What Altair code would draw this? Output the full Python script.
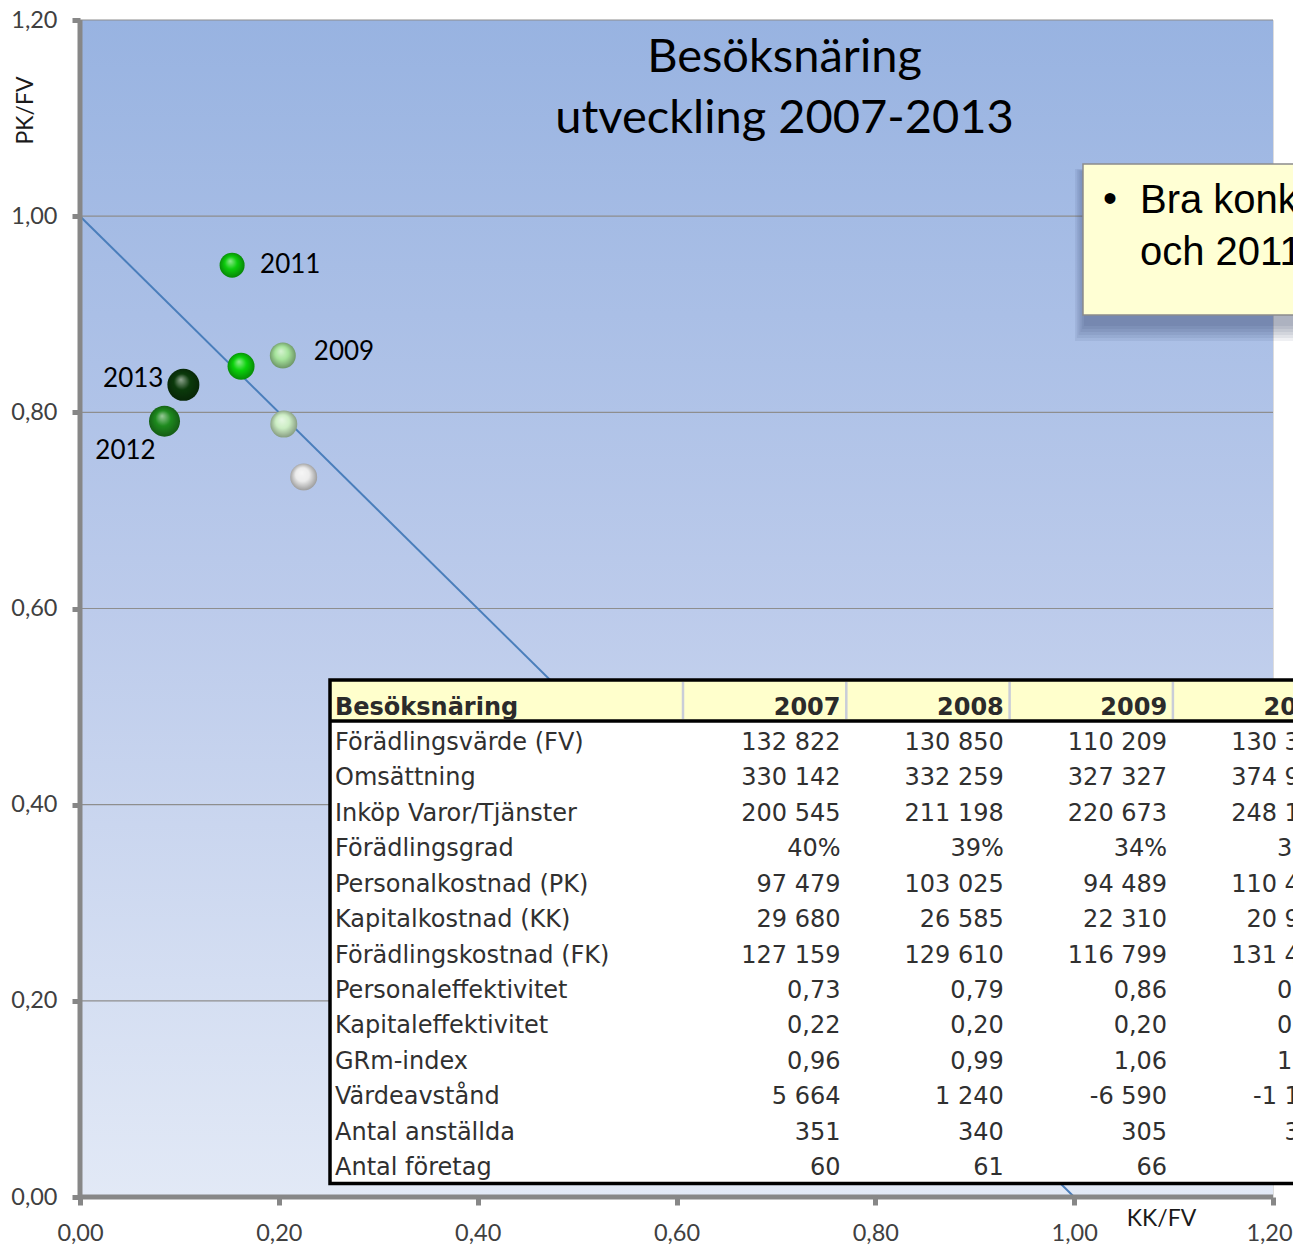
import altair as alt
import pandas as pd

# ---------------- data ----------------
years = [2007, 2008, 2009, 2010, 2011, 2012, 2013]
kk_fv = [0.225, 0.205, 0.204, 0.162, 0.153, 0.085, 0.104]
pk_fv = [0.734, 0.788, 0.858, 0.847, 0.950, 0.791, 0.828]
labelled_years = [2009, 2011, 2012, 2013]

ref_kk = [0.0, 1.0]
ref_pk = [1.0, 0.0]

axis_values = [0.0, 0.2, 0.4, 0.6, 0.8, 1.0, 1.2]
x_title = "KK/FV"
y_title = "PK/FV"

title_lines = ["Besöksnäring", "utveckling 2007-2013"]
note_bullet = "•"
note_lines = ["Bra konkurrenskraft 2010", "och 2011"]

table_head = "Besöksnäring"
table_years = [2007, 2008, 2009, 2010]
row_labels = [
    "Förädlingsvärde (FV)", "Omsättning", "Inköp Varor/Tjänster", "Förädlingsgrad",
    "Personalkostnad (PK)", "Kapitalkostnad (KK)", "Förädlingskostnad (FK)",
    "Personaleffektivitet", "Kapitaleffektivitet", "GRm-index", "Värdeavstånd",
    "Antal anställda", "Antal företag",
]
fv = [132822, 130850, 110209, 130300]
omsattning = [330142, 332259, 327327, 374950]
inkop = [200545, 211198, 220673, 248130]
foradlingsgrad = [40, 39, 34, 35]
pk = [97479, 103025, 94489, 110480]
kk = [29680, 26585, 22310, 20950]
fk = [127159, 129610, 116799, 131430]
pers_eff = [0.73, 0.79, 0.86, 0.85]
kap_eff = [0.22, 0.20, 0.20, 0.16]
grm_index = [0.96, 0.99, 1.06, 1.01]
vardeavstand = [5664, 1240, -6590, -1130]
anstallda = [351, 340, 305, 330]
foretag = [60, 61, 66, 68]

# ---------------- styles / layout ----------------
W, H = 1193, 1177
XMAX = YMAX = 1.2
F_CAL = "Lato"
F_TAB = "DejaVu Sans"
F_ARI = "Liberation Sans"

ball_base = {2007: "#ececec", 2008: "#cdeec5", 2009: "#a6e49c", 2010: "#0ad20a",
             2011: "#0ccc0c", 2012: "#1e8a1e", 2013: "#0b3a0b"}
ball_diam = {2007: 27, 2008: 27, 2009: 26, 2010: 27, 2011: 25, 2012: 31, 2013: 32}
label_style = {2011: dict(dx=28, dy=0, align="left"),
               2009: dict(dx=31, dy=-3, align="left"),
               2013: dict(dx=-20, dy=-6, align="right"),
               2012: dict(dx=-39, dy=30, align="center")}


def mix(c, t, f):
    a = [int(c[i:i + 2], 16) for i in (1, 3, 5)]
    b = [int(t[i:i + 2], 16) for i in (1, 3, 5)]
    return "#" + "".join(f"{round(x + (y - x) * f):02x}" for x, y in zip(a, b))


def fmt_int(v):
    return f"{v:,}".replace(",", " ")


def fmt_dec(v):
    return f"{v:.2f}".replace(".", ",")


def fmt_pct(v):
    return f"{v}%"


xscale = alt.Scale(domain=[0, XMAX], nice=False, zero=False)
yscale = alt.Scale(domain=[0, YMAX], nice=False, zero=False)
label_expr = "replace(format(datum.value, '.2f'), '.', ',')"

xaxis = alt.Axis(values=axis_values, labelExpr=label_expr, title=x_title,
                 titleX=1081, titleY=21, titleAlign="center", titleBaseline="middle",
                 titleFont=F_CAL, titleFontSize=23, titleFontWeight="normal", titleColor="#1a1a1a",
                 domain=False, grid=False, tickColor="#878787", tickWidth=5, tickSize=8,
                 labelFont=F_CAL, labelFontSize=23.5, labelColor="#404040", labelPadding=16,
                 labelFlush=False, labelOverlap=False,
                 labelOffset={"condition": {"test": "datum.value > 1.1", "value": -4}, "value": 0})
yaxis = alt.Axis(values=axis_values, labelExpr=label_expr, title=y_title,
                 titleX=-55, titleY=90, titleAngle=270, titleAlign="center", titleBaseline="middle",
                 titleFont=F_CAL, titleFontSize=23, titleFontWeight="normal", titleColor="#1a1a1a",
                 domain=False, grid=False, tickColor="#878787", tickWidth=5, tickSize=8,
                 labelFont=F_CAL, labelFontSize=23.5, labelColor="#404040", labelPadding=15,
                 labelFlush=False, labelOverlap=False)


def X(f):
    return alt.X(f, scale=xscale, axis=xaxis)


def Y(f):
    return alt.Y(f, scale=yscale, axis=yaxis)


one = pd.DataFrame({"k": [0]})


def box(x, x2, y, y2, **kw):
    return alt.Chart(one).mark_rect(**kw).encode(
        x=alt.value(x), x2=alt.value(x2), y=alt.value(y), y2=alt.value(y2))


def px_x(expr):
    return f"({expr}) * {XMAX} / {W}"


def px_y(expr):
    return f"{YMAX} - ({expr}) * {YMAX} / {H}"


# background
bg_df = pd.DataFrame({"x0": [axis_values[0]], "x1": [axis_values[-1]],
                      "y0": [axis_values[0]], "y1": [axis_values[-1]]})
bg = alt.Chart(bg_df).mark_rect(color={
    "gradient": "linear", "x1": 0, "y1": 0, "x2": 0, "y2": 1,
    "stops": [{"offset": 0, "color": "#98b3e1"}, {"offset": 0.5, "color": "#bccbeb"},
              {"offset": 1, "color": "#e2e9f6"}]}).encode(
    x=X("x0:Q"), x2="x1:Q", y=Y("y0:Q"), y2="y1:Q")

grid = alt.Chart(pd.DataFrame({"v": axis_values[1:]})).mark_rule(
    color="#8e8e8e", strokeWidth=1.2).encode(y=Y("v:Q"))

ref = alt.Chart(pd.DataFrame({"kk": ref_kk, "pk": ref_pk})).mark_line(
    color="#4a7ebb", strokeWidth=2).encode(x=X("kk:Q"), y=Y("pk:Q"))

pts_df = pd.DataFrame({"year": years, "kk": kk_fv, "pk": pk_fv})
balls = []
for yr in years:
    b = ball_base[yr]
    grad = {"gradient": "radial", "x1": 0.42, "y1": 0.33, "r1": 0.0,
            "x2": 0.5, "y2": 0.5, "r2": 0.56,
            "stops": [{"offset": 0, "color": mix(b, "#ffffff", 0.55)},
                      {"offset": 0.45, "color": b},
                      {"offset": 1, "color": mix(b, "#000000", 0.4)}]}
    d = ball_diam[yr]
    balls.append(alt.Chart(pts_df).transform_filter(alt.datum.year == yr).mark_circle(
        size=d * d, opacity=1, color=grad).encode(x=X("kk:Q"), y=Y("pk:Q")))

labels = []
for yr in labelled_years:
    s = label_style[yr]
    labels.append(alt.Chart(pts_df).transform_filter(alt.datum.year == yr).mark_text(
        font=F_CAL, fontSize=26, color="#000000", baseline="middle", **s).encode(
        x=X("kk:Q"), y=Y("pk:Q"), text=alt.Text("year:N")))

title1 = alt.Chart(one).mark_text(text=title_lines[0], font=F_CAL, fontSize=47, color="#000000",
                                  align="center", baseline="alphabetic").encode(
    x=alt.value(704.5), y=alt.value(51.7))
title2 = alt.Chart(one).mark_text(text=title_lines[1], font=F_CAL, fontSize=47, color="#000000",
                                  align="center", baseline="alphabetic").encode(
    x=alt.value(704.5), y=alt.value(113.3))

# note box with shadow
shadow = [box(1004 - e * 0.6, 1420, 152 - e * 0.2, 306 + e, color="#1c2a4e", opacity=0.07)
          for e in (0, 3, 6, 9, 12, 15)]
note_box = box(1003, 1420, 144, 295, fill="#ffffd4", stroke="#8c8c8c", strokeWidth=1.5)
note_b = alt.Chart(one).mark_text(text=note_bullet, font=F_ARI, fontSize=40, color="#000000",
                                  align="center", baseline="middle").encode(
    x=alt.value(1030), y=alt.value(180))
note_t1 = alt.Chart(one).mark_text(text=note_lines[0], font=F_ARI, fontSize=40, color="#000000",
                                   align="left", baseline="alphabetic").encode(
    x=alt.value(1060), y=alt.value(193.3))
note_t2 = alt.Chart(one).mark_text(text=note_lines[1], font=F_ARI, fontSize=40, color="#000000",
                                   align="left", baseline="alphabetic").encode(
    x=alt.value(1060), y=alt.value(245))

# table
T_LEFT, T_RIGHT, T_TOP, T_HEAD_BOT, T_BOT = 250, 1420, 660, 701, 1163.5
TEXT_LEFT = 255
COL_RIGHT0, COL_STEP = 760.5, 163.3
HEAD_BASE, ROW_BASE0, ROW_STEP = 695, 730, 35.42
SEP_OFF = -157.5

table_bg = box(T_LEFT, T_RIGHT, T_TOP, T_BOT, fill="#ffffff")
table_head_bg = box(T_LEFT, T_RIGHT, T_TOP, T_HEAD_BOT, fill="#ffffcc")

col_df = pd.DataFrame({"col": list(range(len(table_years))), "year": table_years})
seps = alt.Chart(col_df).transform_calculate(
    sx=px_x(f"{COL_RIGHT0} + {COL_STEP} * datum.col + ({SEP_OFF})"),
    sy1=px_y(T_TOP + 2), sy2=px_y(T_HEAD_BOT - 2)).mark_rule(
    color="#c9cdd8", strokeWidth=2.5).encode(x=X("sx:Q"), y=Y("sy1:Q"), y2="sy2:Q")
head_line = box(T_LEFT, T_RIGHT, T_HEAD_BOT - 1.75, T_HEAD_BOT + 1.75, fill="#000000")
table_border = box(T_LEFT, T_RIGHT, T_TOP, T_BOT, filled=False,
                   stroke="#000000", strokeWidth=3.5)

head_title = alt.Chart(one).mark_text(text=table_head, font=F_TAB, fontSize=24,
                                      fontWeight="bold", color="#2b2b2b", align="left",
                                      baseline="alphabetic").encode(
    x=alt.value(TEXT_LEFT), y=alt.value(HEAD_BASE))
head_years = alt.Chart(col_df).transform_calculate(
    tx=px_x(f"{COL_RIGHT0} + {COL_STEP} * datum.col"), ty=px_y(HEAD_BASE)).mark_text(
    font=F_TAB, fontSize=24, fontWeight="bold", color="#2b2b2b", align="right",
    baseline="alphabetic").encode(x=X("tx:Q"), y=Y("ty:Q"), text=alt.Text("year:N"))

rows_values = [(fv, fmt_int), (omsattning, fmt_int), (inkop, fmt_int), (foradlingsgrad, fmt_pct),
               (pk, fmt_int), (kk, fmt_int), (fk, fmt_int), (pers_eff, fmt_dec),
               (kap_eff, fmt_dec), (grm_index, fmt_dec), (vardeavstand, fmt_int),
               (anstallda, fmt_int), (foretag, fmt_int)]
lab_df = pd.DataFrame({"row": list(range(len(row_labels))), "label": row_labels})
cells = []
for i, (vals, f) in enumerate(rows_values):
    for j, v in enumerate(vals):
        cells.append({"row": i, "col": j, "txt": f(v)})
cell_df = pd.DataFrame(cells)

row_labels_l = alt.Chart(lab_df).transform_calculate(
    tx=px_x(TEXT_LEFT), ty=px_y(f"{ROW_BASE0} + {ROW_STEP} * datum.row")).mark_text(
    font=F_TAB, fontSize=24, color="#303030", align="left", baseline="alphabetic").encode(
    x=X("tx:Q"), y=Y("ty:Q"), text="label:N")
cell_l = alt.Chart(cell_df).transform_calculate(
    tx=px_x(f"{COL_RIGHT0} + {COL_STEP} * datum.col"),
    ty=px_y(f"{ROW_BASE0} + {ROW_STEP} * datum.row")).mark_text(
    font=F_TAB, fontSize=24, color="#303030", align="right", baseline="alphabetic").encode(
    x=X("tx:Q"), y=Y("ty:Q"), text="txt:N")

# axis lines
y_axis_line = alt.Chart(one).mark_rule(color="#878787", strokeWidth=5).encode(
    x=alt.value(0), y=alt.value(0), y2=alt.value(H + 2))
x_axis_line = alt.Chart(one).mark_rule(color="#878787", strokeWidth=5).encode(
    x=alt.value(-2), x2=alt.value(W), y=alt.value(H))

chart = alt.layer(
    bg, grid, ref, *balls, *labels, title1, title2,
    *shadow, note_box, note_b, note_t1, note_t2,
    table_bg, table_head_bg, seps, head_line, table_border, head_title, head_years,
    row_labels_l, cell_l,
    y_axis_line, x_axis_line,
).properties(
    width=W, height=H,
    autosize=alt.AutoSizeParams(type="none"),
    padding={"left": 72, "top": 12, "right": 20, "bottom": 48},
).configure_view(stroke=None).configure(background="#ffffff")

chart.save("out.html", embed_options={"renderer": "svg", "actions": False})
